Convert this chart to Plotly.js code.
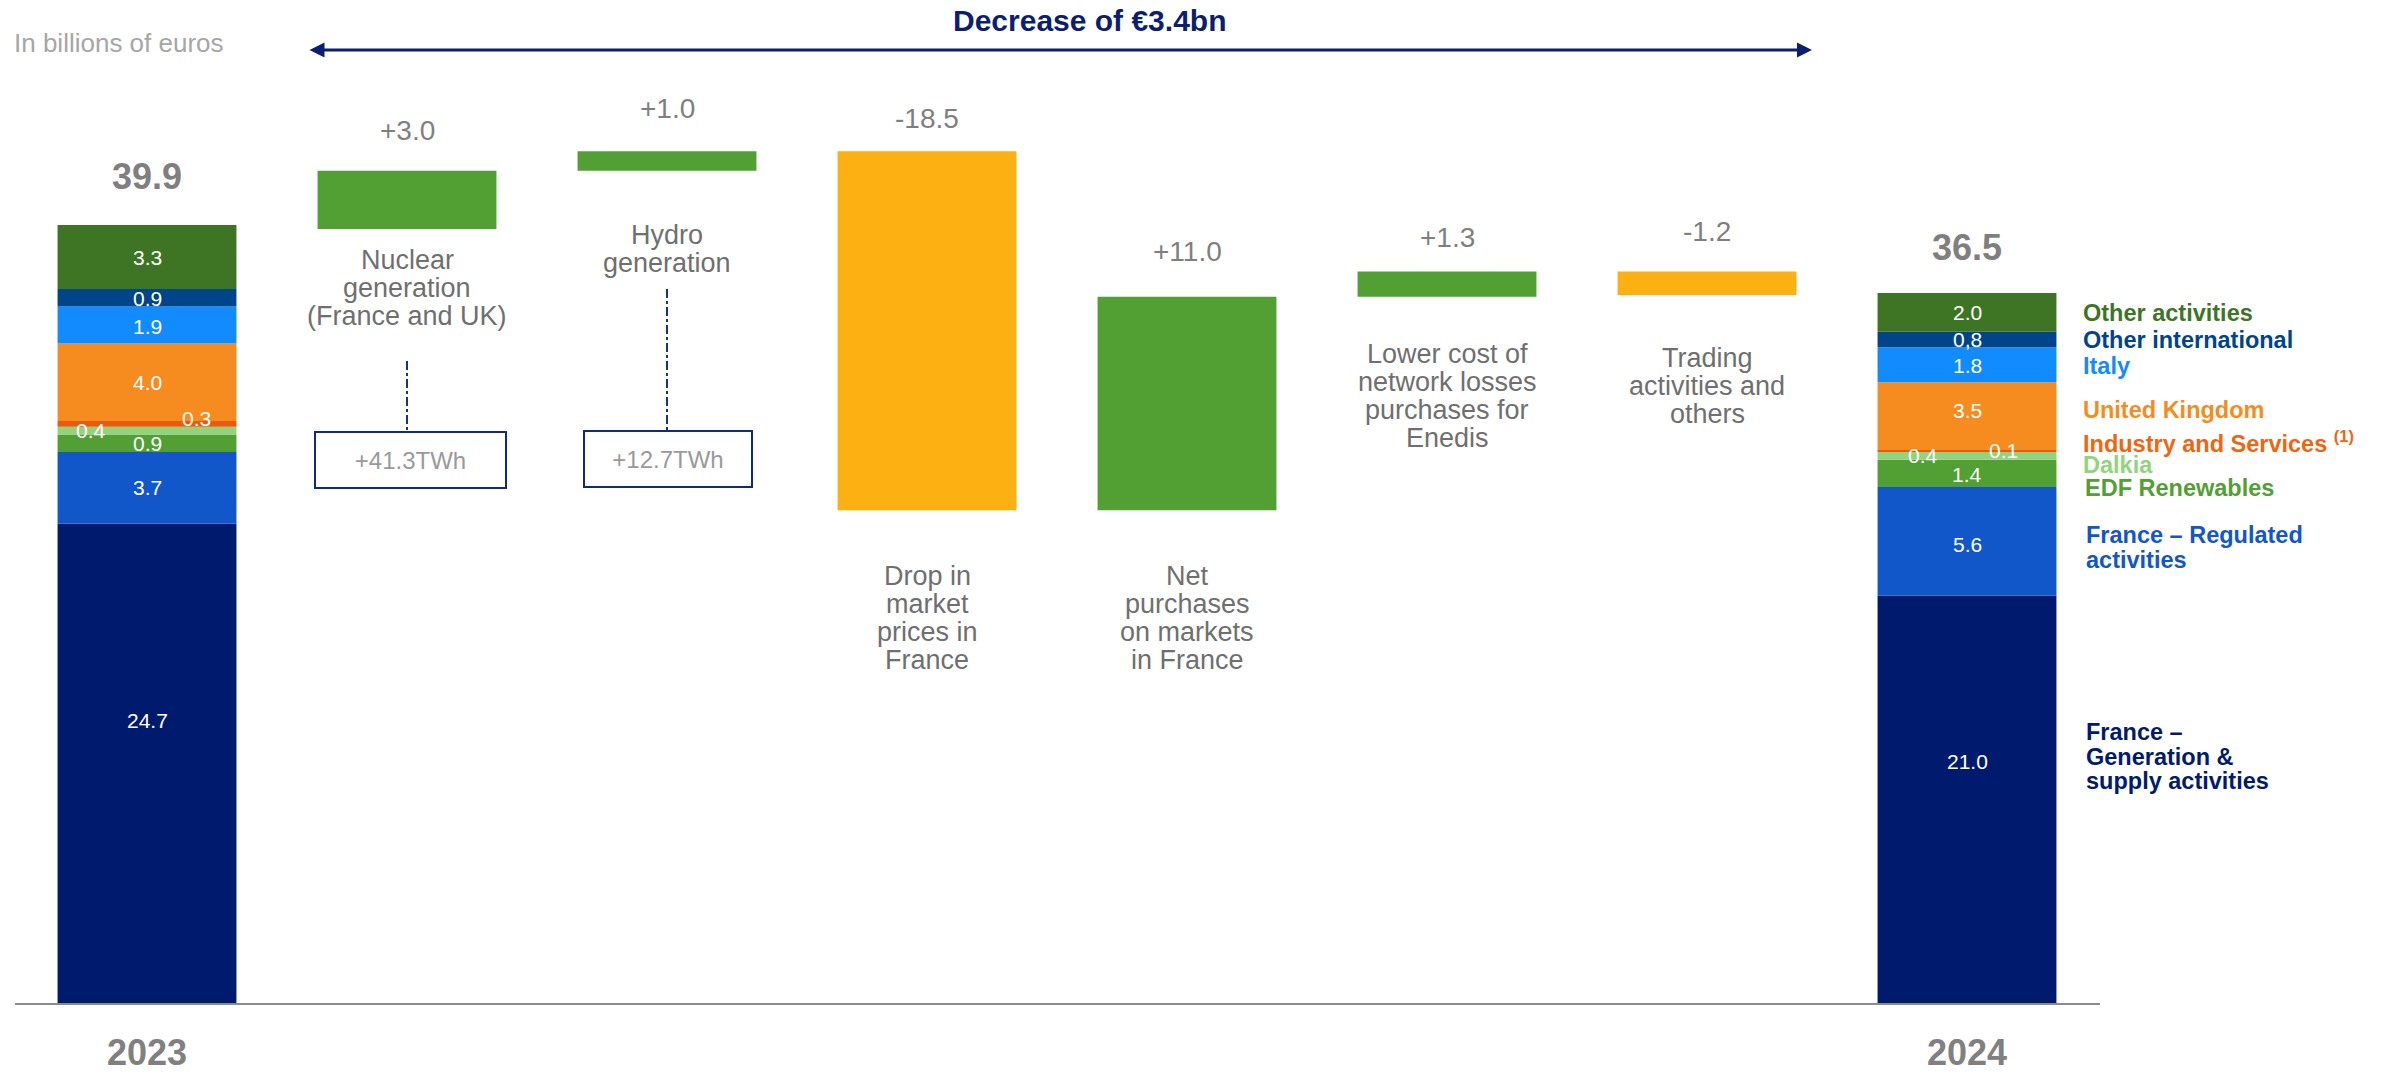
<!DOCTYPE html>
<html><head><meta charset="utf-8">
<script src="https://cdn.plot.ly/plotly-3.0.1.min.js"></script>
<style>html,body{margin:0;padding:0;background:#fff}#chart{width:2382px;height:1074px}</style>
</head><body><div id="chart"></div>
<script>
// ---------------- DATA ----------------
const years = ['2023', '2024'];
const segmentNames = ['France – Generation & supply activities', 'France – Regulated activities', 'EDF Renewables', 'Dalkia', 'Industry and Services', 'United Kingdom', 'Italy', 'Other international', 'Other activities'];
const legendText = ['France –<br>Generation &<br>supply activities', 'France – Regulated<br>activities', 'EDF Renewables', 'Dalkia', 'Industry and Services <sup>(1)</sup>', 'United Kingdom', 'Italy', 'Other international', 'Other activities'];
const values2023 = [24.7, 3.7, 0.9, 0.4, 0.3, 4.0, 1.9, 0.9, 3.3];
const values2024 = [21.0, 5.6, 1.4, 0.4, 0.1, 3.5, 1.8, 0.8, 2.0];
const labels2023 = ['24.7', '3.7', '0.9', '0.4', '0.3', '4.0', '1.9', '0.9', '3.3'];
const labels2024 = ['21.0', '5.6', '1.4', '0.4', '0.1', '3.5', '1.8', '0,8', '2.0'];
const totals = [39.9, 36.5];
const bridgeCategories = ['Nuclear<br>generation<br>(France and UK)', 'Hydro<br>generation', 'Drop in<br>market<br>prices in<br>France', 'Net<br>purchases<br>on markets<br>in France', 'Lower cost of<br>network losses<br>purchases for<br>Enedis', 'Trading<br>activities and<br>others'];
const bridgeDeltas = [3.0, 1.0, -18.5, 11.0, 1.3, -1.2];
const bridgeLabels = ['+3.0', '+1.0', '-18.5', '+11.0', '+1.3', '-1.2'];
const volumeNotes = ['+41.3TWh', '+12.7TWh'];
const headline = 'Decrease of €3.4bn';
const unitNote = 'In billions of euros';

// ---------------- STYLE ----------------
const FONT = '"Liberation Sans", Arial, sans-serif';
const segColors = ['#001A6E', '#1157C9', '#52A033', '#92D47B', '#E85A0C', '#F68B1F', '#128BFF', '#00448A', '#3D7525'];
const legendColors = ['#001A6E', '#1157C9', '#52A033', '#92D47B', '#F0650F', '#F68B1F', '#128BFF', '#00448A', '#3D7525'];
const UP = '#52A033', DOWN = '#FDB012', NAVY = '#0B1F72';
const W = 2382, H = 1074, ML = 15, MR = 282, MT = 0, MB = 71;
const PW = W - ML - MR, PH = H - MT - MB;
const PXU = 19.4;           // px per billion
const SPACING = 260, C0 = 147, BARW = 0.688;
const xr0 = -(C0 - ML) / SPACING, xr1 = xr0 + PW / SPACING;
const pyP = p => (MT + PH - p) / PH;        // pixel y -> paper y
const pxP = p => (p - ML) / PW;             // pixel x -> paper x
const pxX = p => xr0 + (p - ML) / SPACING;  // pixel x -> data x

// segment label offsets (px): [dx, dy]
const segOff2023 = [[0, 43], [0, 0], [0, 0], [-56, 0], [49, 5], [0, 0], [0, -2], [0, -1], [0, 0]];
const segOff2024 = [[0, 38], [0, -3], [0, -1], [-44, 0], [36, 1], [0, 6], [0, -1], [0, 0], [0, 0]];
const bridgeLabelShift = [40, 43, 33, 45, 34, 40];
const totalShift = [52, 47];
const catTopPx = [260, 235, 576, 576, 354, 358];
const catLine = 28;
const legendY = [732, 535, 488, 465, 442, 410, 366, 340, 313];
const legendX = [2084, 2084, 2083, 2081, 2081, 2081, 2081, 2081, 2081];
const legendLine = 24.5;

// ---------------- TRACES ----------------
const traces = [];
let cum23 = 0, cum24 = 0;
const annotations = [];
segmentNames.forEach((name, i) => {
  const b23 = cum23, b24 = cum24;
  traces.push({
    type: 'bar', name: name, x: [0, 7], y: [values2023[i], values2024[i]], base: [b23, b24],
    width: BARW, marker: {color: segColors[i], line: {width: 0}}, hoverinfo: 'name+y'
  });
  annotations.push({x: 0, y: b23 + values2023[i] / 2, xref: 'x', yref: 'y', text: labels2023[i], showarrow: false,
    xshift: segOff2023[i][0], yshift: segOff2023[i][1], font: {family: FONT, size: 21, color: '#ffffff'}});
  annotations.push({x: 7, y: b24 + values2024[i] / 2, xref: 'x', yref: 'y', text: labels2024[i], showarrow: false,
    xshift: segOff2024[i][0], yshift: segOff2024[i][1], font: {family: FONT, size: 21, color: '#ffffff'}});
  cum23 += values2023[i]; cum24 += values2024[i];
});

let level = totals[0];
const wfX = [], wfBase = [], wfLen = [], wfCol = [], wfTop = [];
bridgeDeltas.forEach((d, i) => {
  const lo = d >= 0 ? level : level + d;
  wfX.push(i + 1); wfBase.push(lo); wfLen.push(Math.abs(d)); wfTop.push(lo + Math.abs(d));
  wfCol.push(d >= 0 ? UP : DOWN);
  level += d;
});
traces.push({type: 'bar', x: wfX, y: wfLen, base: wfBase, width: BARW, marker: {color: wfCol, line: {width: 0}},
  text: bridgeLabels, textposition: 'none', hoverinfo: 'text'});

// bridge value labels
bridgeLabels.forEach((t, i) => {
  annotations.push({x: i + 1, y: wfTop[i], xref: 'x', yref: 'y', text: t, showarrow: false, yanchor: 'middle',
    yshift: bridgeLabelShift[i], font: {family: FONT, size: 28, color: '#7F7F7F'}});
});
// bridge category labels (line by line)
bridgeCategories.forEach((t, i) => {
  t.split('<br>').forEach((ln, k) => {
    annotations.push({x: i + 1, y: pyP(catTopPx[i] + k * catLine), xref: 'x', yref: 'paper', text: ln, showarrow: false,
      yanchor: 'middle', font: {family: FONT, size: 27, color: '#6F6F6F'}});
  });
});
// totals
totals.forEach((v, i) => {
  annotations.push({x: i === 0 ? 0 : 7, y: v, xref: 'x', yref: 'y', text: '<b>' + v.toFixed(1) + '</b>', showarrow: false,
    yanchor: 'middle', yshift: totalShift[i], font: {family: FONT, size: 36, color: '#7F7F7F'}});
});
// legend labels on the right
legendText.forEach((t, i) => {
  t.split('<br>').forEach((ln, k) => {
    annotations.push({x: pxP(legendX[i]), y: pyP(legendY[i] + k * legendLine), xref: 'paper', yref: 'paper',
      text: '<b>' + ln + '</b>', showarrow: false, xanchor: 'left', yanchor: 'middle',
      font: {family: FONT, size: 23.5, color: legendColors[i]}});
  });
});
// volume boxes
const boxCenterPx = [[410, 460], [668, 459]];
const boxW = [189, 166];
volumeNotes.forEach((t, i) => {
  annotations.push({x: pxX(boxCenterPx[i][0]), y: pyP(boxCenterPx[i][1]), xref: 'x', yref: 'paper', text: t, showarrow: false,
    width: boxW[i], height: 54, borderwidth: 2, bordercolor: '#102A83', borderpad: 0, bgcolor: '#ffffff',
    font: {family: FONT, size: 24, color: '#9A9A9A'}});
});
// headline + arrow
annotations.push({x: pxX(1812), y: pyP(50), ax: pxX(308), ay: pyP(50), xref: 'x', yref: 'paper', axref: 'x', ayref: 'paper',
  text: '', showarrow: true, arrowhead: 2, startarrowhead: 2, arrowside: 'end+start', arrowsize: 1, startarrowsize: 1,
  arrowwidth: 3, arrowcolor: NAVY, standoff: 0, startstandoff: 0});
annotations.push({x: pxP(1089), y: pyP(20), xref: 'paper', yref: 'paper', text: '<b>' + headline + '</b>', showarrow: false,
  yanchor: 'middle', font: {family: FONT, size: 30, color: NAVY}});
annotations.push({x: pxP(12), y: pyP(43), xref: 'paper', yref: 'paper', text: unitNote, showarrow: false,
  xanchor: 'left', yanchor: 'middle', font: {family: FONT, size: 26, color: '#A6A6A6'}});

const shapes = [
  {type: 'line', xref: 'x', yref: 'paper', x0: 1, x1: 1, y0: pyP(361), y1: pyP(431), line: {color: '#1B2F8A', width: 2, dash: 'dashdot'}},
  {type: 'line', xref: 'x', yref: 'paper', x0: 2, x1: 2, y0: pyP(289), y1: pyP(430), line: {color: '#1B2F8A', width: 2, dash: 'dashdot'}}
];

const layout = {
  width: W, height: H, margin: {l: ML, r: MR, t: MT, b: MB},
  paper_bgcolor: '#ffffff', plot_bgcolor: '#ffffff',
  barmode: 'overlay', showlegend: false,
  font: {family: FONT},
  xaxis: {range: [xr0, xr1], tickvals: [0, 7], ticktext: years.map(y => '<b>' + y + '</b>'),
    tickfont: {family: FONT, size: 36, color: '#808080'}, ticks: '', ticklabelstandoff: 17,
    showline: true, linecolor: '#8C8C8C', linewidth: 2, showgrid: false, zeroline: false, fixedrange: true},
  yaxis: {range: [0, PH / PXU], visible: false, showgrid: false, zeroline: false, fixedrange: true},
  annotations: annotations, shapes: shapes
};
Plotly.newPlot('chart', traces, layout, {displayModeBar: false, staticPlot: true});
</script></body></html>
